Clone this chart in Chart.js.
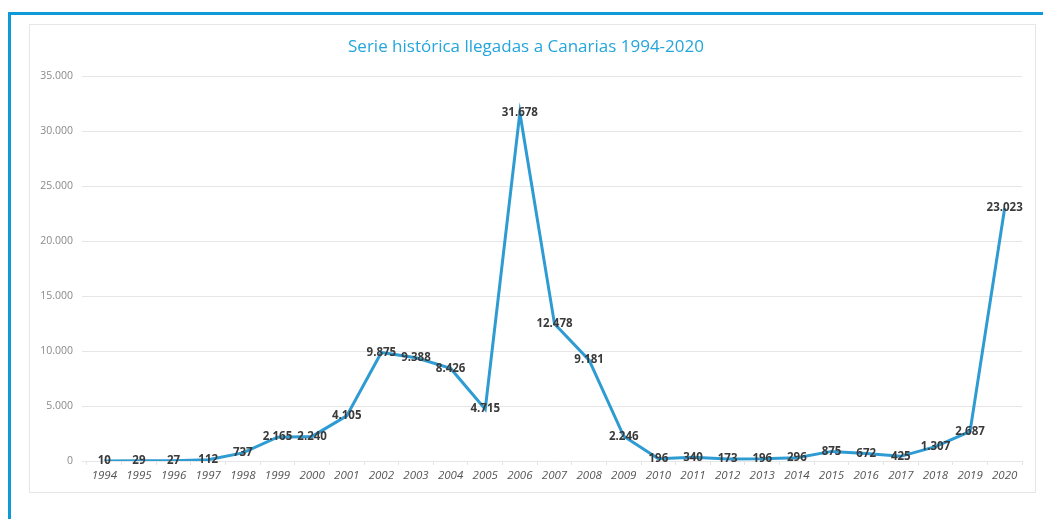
<!DOCTYPE html>
<html>
<head>
<meta charset="utf-8">
<script src="https://cdn.jsdelivr.net/npm/chart.js@4/dist/chart.umd.min.js"></script>
<style>
  html, body { margin: 0; padding: 0; background: #fff; }
  body { width: 1043px; height: 519px; position: relative; overflow: hidden; }
  .frame {
    position: absolute; left: 8px; top: 12px; right: -10px; bottom: -10px;
    border-top: 3px solid #0e9ad7; border-left: 3px solid #0e9ad7;
  }
  .box {
    position: absolute; left: 29px; top: 24px; width: 1005px; height: 467px;
    border: 1px solid #e6e6e6; background: #fff;
  }
  .box canvas { position: absolute; left: 0; top: 0; }
</style>
</head>
<body>
<div class="frame"></div>
<div class="box"><canvas id="myChart" width="1005" height="467"></canvas></div>
<script>
const years = ['1994', '1995', '1996', '1997', '1998', '1999', '2000', '2001', '2002',
  '2003', '2004', '2005', '2006', '2007', '2008', '2009', '2010', '2011', '2012',
  '2013', '2014', '2015', '2016', '2017', '2018', '2019', '2020'];
const llegadas = [10, 29, 27, 112, 737, 2165, 2240, 4105, 9875,
  9388, 8426, 4715, 31678, 12478, 9181, 2246, 196, 340, 173,
  196, 296, 875, 672, 425, 1307, 2687, 23023];
const yTicks = [0, 5000, 10000, 15000, 20000, 25000, 30000, 35000];

function fmt(v) {
  return String(v).replace(/\B(?=(\d{3})+(?!\d))/g, '.');
}

// etiquetas de valor centradas en cada punto
const valueLabels = {
  id: 'valueLabels',
  afterDatasetsDraw(chart) {
    const ctx = chart.ctx;
    const meta = chart.getDatasetMeta(0);
    ctx.save();
    ctx.font = 'bold 11.5px "Open Sans"';
    ctx.fillStyle = '#3a3a3a';
    ctx.textAlign = 'center';
    ctx.textBaseline = 'middle';
    meta.data.forEach(function (pt, i) {
      ctx.fillText(fmt(chart.data.datasets[0].data[i]), pt.x, pt.y);
    });
    ctx.restore();
  }
};

var ctx = document.getElementById('myChart').getContext('2d');

var chart = new Chart(ctx, {
  type: 'line',
  data: {
    labels: years,
    datasets: [{
      label: 'Llegadas',
      data: llegadas,
      borderColor: '#2e9bd2',
      backgroundColor: '#2e9bd2',
      borderWidth: 3,
      pointRadius: 0,
      tension: 0,
    }]
  },
  options: {
    responsive: false,
    animation: false,
    layout: { padding: { left: 0, right: 13, top: 0, bottom: 0 } },
    plugins: {
      legend: { display: false },
      tooltip: { enabled: false },
      title: {
        display: true,
        text: 'Serie histórica llegadas a Canarias 1994-2020',
        color: '#24a6dc',
        font: { family: 'Open Sans', size: 17, weight: 'normal' },
        padding: { top: 12, bottom: 19 },
      },
    },
    scales: {
      x: {
        offset: true,
        grid: { display: true, drawOnChartArea: false, offset: true, color: '#e4e4e4', tickLength: 4 },
        border: { display: false },
        ticks: {
          color: '#555',
          padding: 4,
          font: { family: 'Open Sans', size: 11.5, style: 'italic' },
          maxRotation: 0,
          autoSkip: false,
        },
        afterFit(scale) { scale.height = 31; },
      },
      y: {
        min: 0,
        max: 35000,
        afterBuildTicks(scale) { scale.ticks = yTicks.map(v => ({ value: v })); },
        grid: { color: '#e6e6e6', tickLength: 5 },
        border: { display: false },
        ticks: {
          color: '#8a8a8a',
          padding: 9,
          font: { family: 'Open Sans', size: 10.5 },
          callback: v => fmt(v),
        },
        afterFit(scale) { scale.width = 57; },
      }
    }
  },
  plugins: [valueLabels],
});
</script>
</body>
</html>
